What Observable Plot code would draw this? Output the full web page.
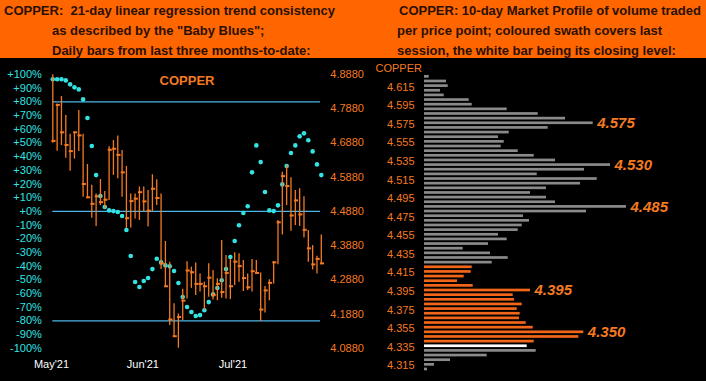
<!DOCTYPE html>
<html><head><meta charset="utf-8">
<script src="https://cdn.jsdelivr.net/npm/d3@7"></script>
<script src="https://cdn.jsdelivr.net/npm/@observablehq/plot@0.6"></script>
<style>
body{margin:0;background:#000;}
#wrap{position:relative;width:706px;height:381px;overflow:hidden;background:#000;font-family:"Liberation Sans",Arial,sans-serif;}
.hdr{position:absolute;top:0;height:58px;background:#ff6600;color:#2a1000;font-weight:bold;font-size:13px;line-height:20px;padding-top:1px;box-sizing:border-box;white-space:nowrap;}
#left{position:absolute;left:0;top:58px;}
#right{position:absolute;left:370px;top:58px;}
svg{display:block;}
</style></head>
<body>
<div id="wrap">
  <div class="hdr" style="left:0;width:370px;">
    <div style="padding-left:4px">COPPER:&nbsp; 21-day linear regression trend consistency</div>
    <div style="padding-left:52px">as described by the "Baby Blues";</div>
    <div style="padding-left:52px">Daily bars from last three months-to-date:</div>
  </div>
  <div class="hdr" style="left:370px;width:336px;">
    <div style="padding-left:29px">COPPER: 10-day Market Profile of volume traded</div>
    <div style="padding-left:27px">per price point; coloured swath covers last</div>
    <div style="padding-left:27px">session, the white bar being its closing level:</div>
  </div>
  <div id="left"></div>
  <div id="right"></div>
</div>
<script>
// ---------- Left panel data: daily bars (price) and Baby Blues (%) ----------
const highs = [4.887,4.802,4.824,4.768,4.713,4.719,4.783,4.713,4.625,4.564,4.539,4.581,4.546,4.677,4.695,4.708,4.666,4.619,4.539,4.539,4.559,4.559,4.549,4.595,4.580,4.539,4.400,4.339,4.218,4.188,4.260,4.341,4.325,4.337,4.305,4.281,4.335,4.315,4.291,4.403,4.359,4.349,4.367,4.364,4.344,4.305,4.347,4.344,4.308,4.268,4.288,4.341,4.461,4.602,4.622,4.586,4.549,4.554,4.531,4.432,4.388,4.357,4.419];
const lows = [4.687,4.664,4.680,4.643,4.605,4.641,4.663,4.529,4.525,4.468,4.444,4.505,4.495,4.520,4.593,4.583,4.529,4.437,4.439,4.466,4.461,4.486,4.442,4.486,4.505,4.318,4.266,4.154,4.120,4.088,4.169,4.232,4.263,4.242,4.252,4.198,4.237,4.229,4.227,4.234,4.232,4.230,4.271,4.281,4.254,4.257,4.252,4.305,4.166,4.191,4.227,4.276,4.332,4.419,4.505,4.430,4.447,4.444,4.410,4.339,4.317,4.305,4.332];
const closes = [4.694,4.799,4.719,4.682,4.664,4.719,4.710,4.568,4.529,4.510,4.532,4.515,4.522,4.668,4.671,4.653,4.602,4.468,4.518,4.525,4.544,4.517,4.490,4.554,4.527,4.336,4.269,4.172,4.123,4.179,4.227,4.315,4.310,4.276,4.276,4.269,4.294,4.244,4.276,4.252,4.308,4.269,4.341,4.328,4.293,4.266,4.313,4.308,4.201,4.257,4.279,4.339,4.456,4.591,4.562,4.476,4.520,4.479,4.434,4.380,4.333,4.349,4.336];
const babyBlues = [96.5,96.5,96.5,95.7,92.8,90.6,89.1,81.8,68.2,47.7,26.5,11.2,3.2,0.7,0.2,-0.5,-3.4,-13.6,-32.6,-51.6,-55.3,-50.9,-48.7,-42.2,-34.6,-37.3,-39.5,-40.2,-43.6,-52.4,-62.6,-69.9,-73.6,-76.5,-75.8,-72.3,-66.3,-60.7,-56,-50.4,-42.2,-33.4,-21.7,-10.2,-1.2,3.7,28.5,48.2,36,14.1,0.7,0.2,4.4,19.7,33.1,42.6,48.2,54.8,57,51.9,43.8,34.3,26.5];
const monthLabels = ["May'21","Jun'21","Jul'21"];
const monthIndex = [0.7, 21.8, 42.6];
const pctTicks = [100,90,80,70,60,50,40,30,20,10,0,-10,-20,-30,-40,-50,-60,-70,-80,-90,-100];
const priceTicks = [4.888,4.788,4.688,4.588,4.488,4.388,4.288,4.188,4.088];
const refLevels = [80, 0, -80];
// the left (%) and right (price) axes share one vertical scale: 0% at 4.488, 10% per 0.04
const pctToPrice = p => 4.488 + p * 0.004;
const priceToPct = v => Math.round((v - 4.488) / 0.004);

// ---------- Right panel data: 10-day market profile ----------
const profilePrices = ["4.625","4.620","4.615","4.610","4.605","4.600","4.595","4.590","4.585","4.580","4.575","4.570","4.565","4.560","4.555","4.550","4.545","4.540","4.535","4.530","4.525","4.520","4.515","4.510","4.505","4.500","4.495","4.490","4.485","4.480","4.475","4.470","4.465","4.460","4.455","4.450","4.445","4.440","4.435","4.430","4.425","4.420","4.415","4.410","4.405","4.400","4.395","4.390","4.385","4.380","4.375","4.370","4.365","4.360","4.355","4.350","4.345","4.340","4.335","4.330","4.325","4.320","4.315","4.310"];
const profileVolume = [4.7,22,23.7,16,19.7,44.7,47.7,82.7,113.7,141,168.7,123.7,84.7,74,79.7,76.7,93.7,109.7,131,186,160,112.7,172.7,156,122,106,122,131,202,162,99,105,97.7,93.7,74,82.7,64,38.7,66,83.7,67.7,47.7,46.7,39.7,33,48.7,106,88.7,90,97.7,92.7,95.7,95,101.7,108.7,159.3,154.3,109.7,102.7,111.7,62.7,26,10,3];
const sessionHigh = 4.420, sessionLow = 4.340, closeLevel = 4.335;
const peakLabels = ["4.575","4.530","4.485","4.395","4.350"];
const profileTicks = ["4.615","4.595","4.575","4.555","4.535","4.515","4.495","4.475","4.455","4.435","4.415","4.395","4.375","4.355","4.335","4.315"];

const ORANGE = "#f47a22", CYAN = "#33e3e3", BLUE = "#4bb6ea", FONT = "'Liberation Sans', Arial, sans-serif";

const bars = highs.map((h, i) => ({i: i + 1, high: h, low: lows[i], close: closes[i]}));
const blues = babyBlues.map((p, i) => ({i: i + 1, p}));
const firstI = bars[0].i, lastI = bars[bars.length - 1].i;
const monthMap = new Map(monthIndex.map((v, k) => [v, monthLabels[k]]));

const left = Plot.plot({
  width: 370, height: 323,
  marginLeft: 52.3, marginRight: 49.2, marginTop: 16, marginBottom: 33.3,
  x: {domain: [firstI, lastI], axis: null},
  y: {domain: [pctToPrice(-100), pctToPrice(100)], axis: null},
  style: {background: "transparent", fontFamily: FONT, fontSize: "11px", overflow: "visible"},
  marks: [
    Plot.ruleY(refLevels, {y: d => pctToPrice(d), x1: firstI, x2: lastI - 0.2, stroke: BLUE, strokeWidth: 1.2}),
    Plot.dot(blues, {x: "i", y: d => pctToPrice(d.p), r: 2.3, fill: CYAN, stroke: "none"}),
    Plot.ruleX(bars, {x: "i", y1: "low", y2: "high", stroke: ORANGE, strokeWidth: 1.3}),
    Plot.ruleY(bars, {y: "close", x1: d => d.i - 0.2, x2: d => d.i + 0.75, stroke: ORANGE, strokeWidth: 2}),
    Plot.axisY(pctTicks.map(pctToPrice), {anchor: "left", label: null, tickSize: 0, tickPadding: 11, fill: CYAN, fontSize: 11,
      tickFormat: v => { const p = priceToPct(v); return (p >= 0 ? "+" : "") + p + "%"; }}),
    Plot.axisY(priceTicks, {anchor: "right", label: null, tickSize: 0, tickPadding: 9, fill: ORANGE, fontSize: 11, tickFormat: v => v.toFixed(4)}),
    Plot.axisX(monthIndex, {label: null, tickSize: 0, tickPadding: 12, fill: "#ffffff", fontSize: 11, tickFormat: v => monthMap.get(v)}),
    Plot.text(["COPPER"], {frameAnchor: "top", dy: 1, fill: ORANGE, fontSize: 13, fontWeight: "bold"})
  ]
});
document.getElementById("left").appendChild(left);

const profile = profilePrices.map((p, k) => {
  const v = +p;
  const kind = Math.abs(v - closeLevel) < 1e-9 ? "close" : (v <= sessionHigh + 1e-9 && v >= sessionLow - 1e-9 ? "session" : "other");
  return {price: p, vol: profileVolume[k], kind};
});
const colorOf = {other: "#8a8a8a", session: "#f2661a", close: "#ffffff"};
const peaks = profile.filter(d => peakLabels.includes(d.price));

const right = Plot.plot({
  width: 336, height: 323,
  marginLeft: 54, marginRight: 0, marginTop: 16, marginBottom: 9.7,
  x: {domain: [0, 282], axis: null},
  y: {type: "band", domain: profilePrices, paddingInner: 0.42, paddingOuter: 0.21, axis: null},
  style: {background: "transparent", fontFamily: FONT, fontSize: "11px", overflow: "visible"},
  marks: [
    Plot.barX(profile, {x: "vol", y: "price", fill: d => colorOf[d.kind]}),
    Plot.axisY(profileTicks, {anchor: "left", label: null, tickSize: 0, tickPadding: 10, fill: ORANGE, fontSize: 11, dy: 1}),
    Plot.text(peaks, {x: "vol", y: "price", text: "price", dx: 4, textAnchor: "start", fill: ORANGE,
      fontSize: 15, fontWeight: "bold", fontStyle: "italic"}),
    Plot.text(["COPPER"], {frameAnchor: "top-left", dx: -49, dy: -10, fill: ORANGE, fontSize: 11})
  ]
});
document.getElementById("right").appendChild(right);
</script>
</body></html>
